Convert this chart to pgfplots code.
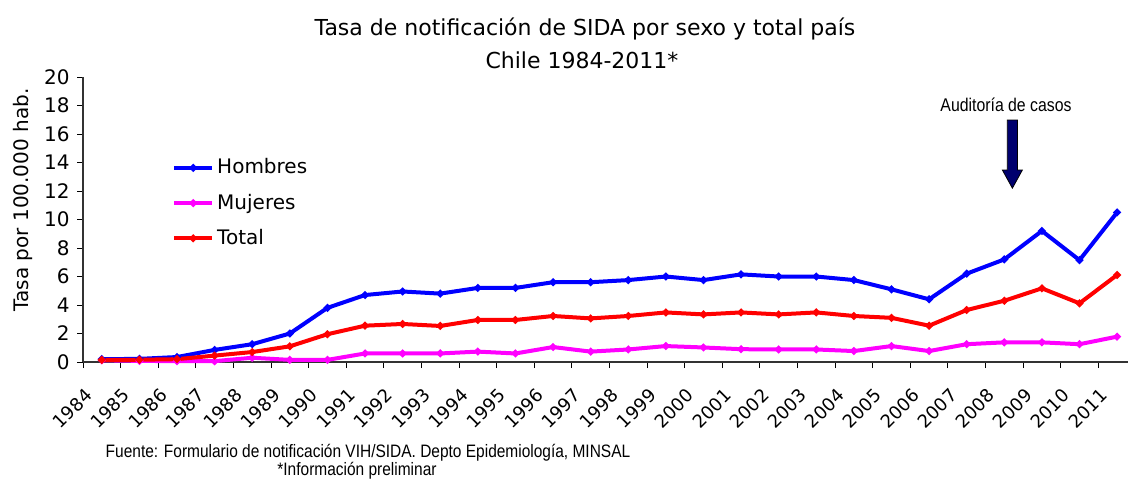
\documentclass[border=0pt]{standalone}
\usepackage{fontspec}
\setmainfont{DejaVu Sans}
\newfontfamily\narrowfont[FakeStretch=0.86]{Liberation Sans}
\usepackage{pgfplots}
\pgfplotsset{compat=1.18}
\definecolor{navyarrow}{RGB}{0,0,110}
\definecolor{hom}{RGB}{0,0,255}
\definecolor{muj}{RGB}{255,0,255}
\definecolor{tot}{RGB}{255,0,0}
\pgfplotstableread{
idx hombres mujeres total
0  0.20 0.12 0.15
1  0.22 0.08 0.16
2  0.35 0.06 0.20
3  0.85 0.06 0.45
4  1.25 0.30 0.70
5  2.00 0.15 1.10
6  3.80 0.15 1.95
7  4.70 0.60 2.55
8  4.95 0.60 2.67
9  4.80 0.60 2.53
10 5.20 0.73 2.95
11 5.20 0.60 2.95
12 5.60 1.05 3.23
13 5.60 0.73 3.06
14 5.75 0.88 3.23
15 6.00 1.12 3.48
16 5.75 1.02 3.34
17 6.15 0.90 3.48
18 6.00 0.88 3.34
19 6.00 0.88 3.48
20 5.75 0.77 3.23
21 5.10 1.12 3.10
22 4.40 0.77 2.55
23 6.20 1.25 3.65
24 7.20 1.38 4.30
25 9.20 1.38 5.17
26 7.15 1.25 4.12
27 10.50 1.78 6.11
}\datatable
\begin{document}
\begin{tikzpicture}
\useasboundingbox (0,0) rectangle (564pt,-239.5pt);
\begin{axis}[
  scale only axis, width=522.5pt, height=142.5pt,
  at={(41.5pt,-181pt)}, anchor=south west,
  xmin=-0.5, xmax=27.29, ymin=0, ymax=20,
  clip=false,
  axis x line*=bottom, axis y line*=left,
  axis line style={-, line width=0.75pt, black!80},
  ytick={0,2,...,20},
  xtick={0,...,27},
  xticklabels={1984,1985,1986,1987,1988,1989,1990,1991,1992,1993,1994,1995,1996,1997,1998,1999,2000,2001,2002,2003,2004,2005,2006,2007,2008,2009,2010,2011},
  minor xtick={-0.5,0.5,...,26.5},
  major x tick style={draw=none},
  minor x tick style={black, line width=0.5pt},
  minor tick length=3pt,
  major tick length=3pt,
  y tick style={black, line width=0.5pt},
  tick align=outside,
  yticklabel style={font=\fontsize{10}{12}\selectfont, anchor=east, inner sep=1pt, xshift=-2.5pt},
  /pgf/number format/assume math mode=true,
  xticklabel style={font=\fontsize{9}{11}\selectfont, xshift=-9pt, yshift=-8pt, rotate=45, anchor=north east, inner sep=1pt},
  legend style={draw=none, fill=none, at={(0.085,0.725)}, anchor=north west,
    font=\fontsize{10}{12}\selectfont, row sep=5.5pt, inner sep=0pt,
    nodes={inner sep=1.5pt}},
  legend cell align=left,
  legend image code/.code={\draw[#1, mark repeat=2, mark phase=2] plot coordinates {(0pt,0pt) (9.5pt,0pt) (19pt,0pt)};},
  every axis plot/.append style={line width=2pt, mark=*, mark size=0.7pt},
]
\addplot[hom, mark options={hom}] table[x=idx, y=hombres] {\datatable};
\addlegendentry{Hombres}
\addplot[muj, mark options={muj}] table[x=idx, y=mujeres] {\datatable};
\addlegendentry{Mujeres}
\addplot[tot, mark options={tot}] table[x=idx, y=total] {\datatable};
\addlegendentry{Total}
\draw[fill=navyarrow, draw=black, line width=0.4pt]
  (axis cs:24.08,16.98) -- (axis cs:24.35,16.98) -- (axis cs:24.35,13.47)
  -- (axis cs:24.48,13.47) -- (axis cs:24.215,12.2) -- (axis cs:23.95,13.47)
  -- (axis cs:24.08,13.47) -- cycle;
\end{axis}
\node[font=\fontsize{11}{13}\selectfont] at (292.5pt,-14.5pt) {Tasa de notificación de SIDA por sexo y total país};
\node[font=\fontsize{11}{13}\selectfont] at (291pt,-30pt) {Chile 1984-2011*};
\node[rotate=90, font=\fontsize{10}{12}\selectfont] at (11.5pt,-100pt) {Tasa por 100.000 hab.};
\node[font=\narrowfont\fontsize{9.2}{10}\selectfont] at (503pt,-52.5pt) {Auditoría de casos};
\node[font=\narrowfont\fontsize{9}{10}\selectfont] at (184pt,-226.5pt) {Fuente: Formulario de notificación VIH/SIDA. Depto Epidemiología, MINSAL};
\node[font=\narrowfont\fontsize{9}{10}\selectfont] at (178.5pt,-235.5pt) {*Información preliminar};
\end{tikzpicture}
\end{document}
